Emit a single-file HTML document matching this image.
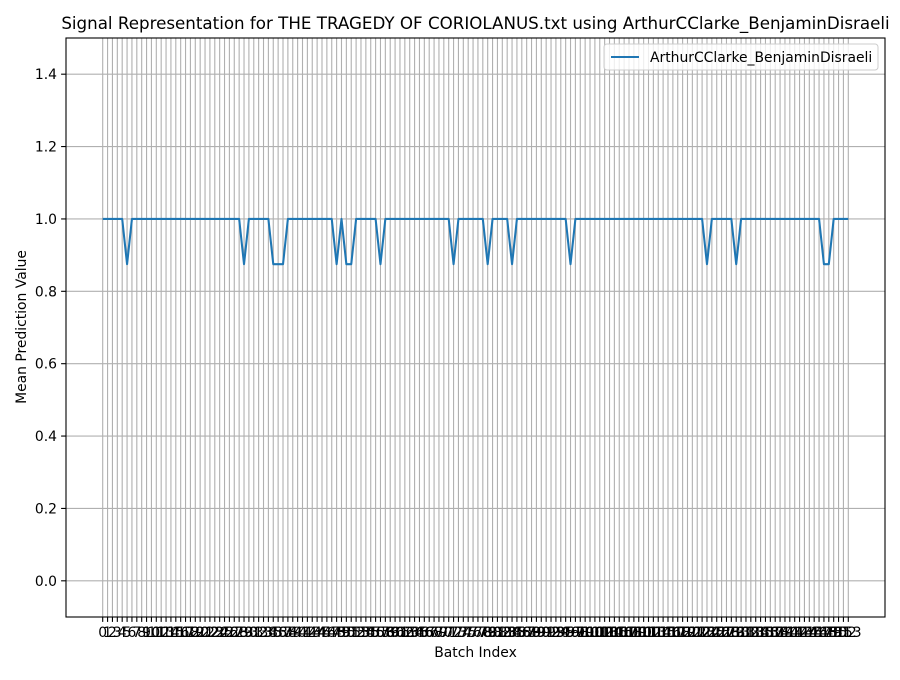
<!DOCTYPE html>
<html><head><meta charset="utf-8"><style>
body{margin:0;background:#fff;font-family:"Liberation Sans","DejaVu Sans",sans-serif}
svg text{font-family:"DejaVu Sans","Liberation Sans",sans-serif}
</style></head><body>
<svg id="c" width="900" height="675" xmlns="http://www.w3.org/2000/svg"></svg>
<script>
const categories = Array.from({length:154},(_,i)=>i);
const dipIndices = [5,29,35,36,37,48,50,51,57,72,79,84,96,124,130,148,149];
const seriesValues = categories.map(i=>dipIndices.includes(i)?0.875:1.0);
const yTicks = [0.0,0.2,0.4,0.6,0.8,1.0,1.2,1.4];
const yTickLabels = ["0.0","0.2","0.4","0.6","0.8","1.0","1.2","1.4"];

const L=66,R=885,T=38,B=617;
const x0=102.7,x1=848.3;
const xs=i=>x0+(x1-x0)*i/153;
const ys=v=>B-(v+0.1)/1.6*(B-T);
const NS="http://www.w3.org/2000/svg";
const svg=document.getElementById('c');
function mk(t,a,p){const e=document.createElementNS(NS,t);for(const k in a)e.setAttribute(k,a[k]);(p||svg).appendChild(e);return e;}

const grid=mk('g',{});


categories.forEach(i=>{mk('line',{x1:xs(i),x2:xs(i),y1:T,y2:B,stroke:'#b0b0b0','stroke-width':1.1},grid);});
yTicks.forEach(v=>{mk('line',{x1:L,x2:R,y1:ys(v),y2:ys(v),stroke:'#b0b0b0','stroke-width':1.1},grid);});

const xt=mk('g',{'font-size':13.9,'text-anchor':'middle',fill:'#000'});


categories.forEach(i=>{mk('line',{x1:xs(i),x2:xs(i),y1:B,y2:B+4.9,stroke:'#000','stroke-width':1.1},xt);const t=mk('text',{x:xs(i),y:637},xt);t.textContent=String(i);});

const yt=mk('g',{'font-size':13.9,'text-anchor':'end',fill:'#000'});


yTicks.forEach((v,k)=>{mk('line',{x1:L-4.9,x2:L,y1:ys(v),y2:ys(v),stroke:'#000','stroke-width':1.1},yt);const t=mk('text',{x:L-9,y:ys(v)+5},yt);t.textContent=yTickLabels[k];});

const line=mk('polyline',{points:categories.map((c,i)=>xs(c)+','+ys(seriesValues[i])).join(' '),fill:'none',stroke:'#1f77b4','stroke-width':2.08,'stroke-linejoin':'round'});



const frame=mk('rect',{x:L,y:T,width:R-L,height:B-T,fill:'none',stroke:'#000','stroke-width':1.1});



const title=mk('text',{x:475.5,y:29,'font-size':16.7,'text-anchor':'middle'});
title.textContent='Signal Representation for THE TRAGEDY OF CORIOLANUS.txt using ArthurCClarke_BenjaminDisraeli';



const xl=mk('text',{x:475.5,y:657,'font-size':13.9,'text-anchor':'middle'});
xl.textContent='Batch Index';



const yl=mk('text',{x:26,y:327,'font-size':13.9,'text-anchor':'middle',transform:'rotate(-90 26 327)'});
yl.textContent='Mean Prediction Value';



const lg=mk('g',{});


mk('rect',{x:604,y:44,width:274,height:26,rx:3,fill:'#fff','fill-opacity':0.8,stroke:'#ccc'},lg);
mk('line',{x1:611,x2:639,y1:57,y2:57,stroke:'#1f77b4','stroke-width':2.08},lg);
const lt=mk('text',{x:650,y:62,'font-size':13.9},lg);
lt.textContent='ArthurCClarke_BenjaminDisraeli';


</script>
</body></html>
